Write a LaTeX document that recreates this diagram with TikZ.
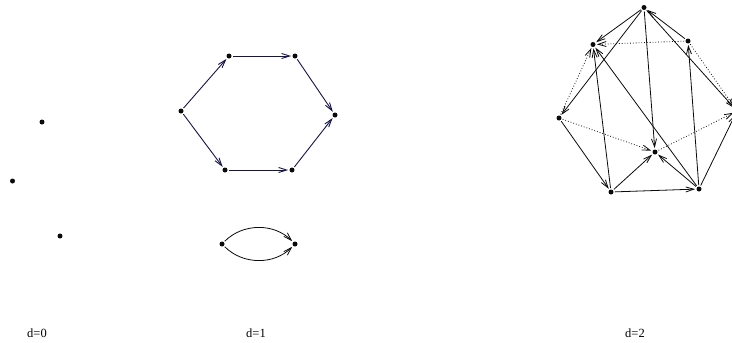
\documentclass[tikz,border=0pt]{standalone}
\usepackage{fontspec}
\setmainfont{Liberation Serif}
\usetikzlibrary{arrows.meta}
\definecolor{ink}{HTML}{0B0B0B}
\definecolor{navy}{HTML}{14144A}
\tikzset{
  x=1pt, y=-1pt,
  >={Straight Barb[length=8pt,width=5pt]},
  vtx/.style={circle, fill=ink, inner sep=0pt, minimum size=5pt},
  edge/.style={->, ink, line width=0.8pt, shorten >=1.2pt, shorten <=1.2pt},
  hexedge/.style={edge, navy, line width=0.9pt},
  dotedge/.style={edge, dotted, line width=0.8pt},
  lab/.style={font=\fontsize{12.5}{14}\selectfont, inner sep=0pt},
}

\begin{document}
\begin{tikzpicture}
\useasboundingbox (0,0) rectangle (732,343);

% ---------------- d=0 : three isolated points ----------------
\node[vtx] (p1) at (42,122) {};
\node[vtx] (p2) at (12.5,181) {};
\node[vtx] (p3) at (60,236) {};
\node[lab] (d0) at (37,333) {d=0};

% ---------------- d=1 : hexagon and a double edge ----------------
\node[vtx] (hl)  at (181,111) {};
\node[vtx] (htl) at (229,56) {};
\node[vtx] (htr) at (295,56) {};
\node[vtx] (hr)  at (335,115) {};
\node[vtx] (hbr) at (292,170) {};
\node[vtx] (hbl) at (225,170) {};
\draw[hexedge] (hl) -- (htl);
\draw[hexedge] (htl) -- (htr);
\draw[hexedge] (htr) -- (hr);
\draw[hexedge] (hl) -- (hbl);
\draw[hexedge] (hbl) -- (hbr);
\draw[hexedge] (hbr) -- (hr);

\node[vtx] (pa) at (222,244) {};
\node[vtx] (pb) at (295,244) {};
\draw[edge] (pa) to[bend right=45] (pb);
\draw[edge] (pa) to[bend left=45] (pb);
\node[lab] (d1) at (256,333) {d=1};

% ---------------- d=2 : eight vertices ----------------
\node[vtx] (t)  at (644,7.5) {};
\node[vtx] (ul) at (593,44.5) {};
\node[vtx] (ur) at (688,41) {};
\node[vtx] (l)  at (559,118) {};
\node[vtx] (r)  at (737,111) {};
\node[vtx] (c)  at (655,152) {};
\node[vtx] (bl) at (611,192) {};
\node[vtx] (br) at (699,189) {};
% solid arcs
\draw[edge] (t) -- (ul);
\draw[edge] (t) -- (l);
\draw[edge] (t) -- (c);
\draw[edge] (t) -- (r);
\draw[edge] (ur) -- (t);
\draw[edge] (l) -- (bl);
\draw[edge] (bl) -- (ul);
\draw[edge] (bl) -- (c);
\draw[edge] (bl) -- (br);
\draw[edge] (br) -- (ul);
\draw[edge] (br) -- (c);
\draw[edge] (br) -- (ur);
\draw[edge] (br) -- (r);
% dotted arcs
\draw[dotedge] (ur) -- (ul);
\draw[dotedge] (ur) -- (r);
\draw[dotedge] (l) -- (ul);
\draw[dotedge] (l) -- (c);
\draw[dotedge] (c) -- (r);
\node[lab] (d2) at (635,333) {d=2};

\end{tikzpicture}
\end{document}
